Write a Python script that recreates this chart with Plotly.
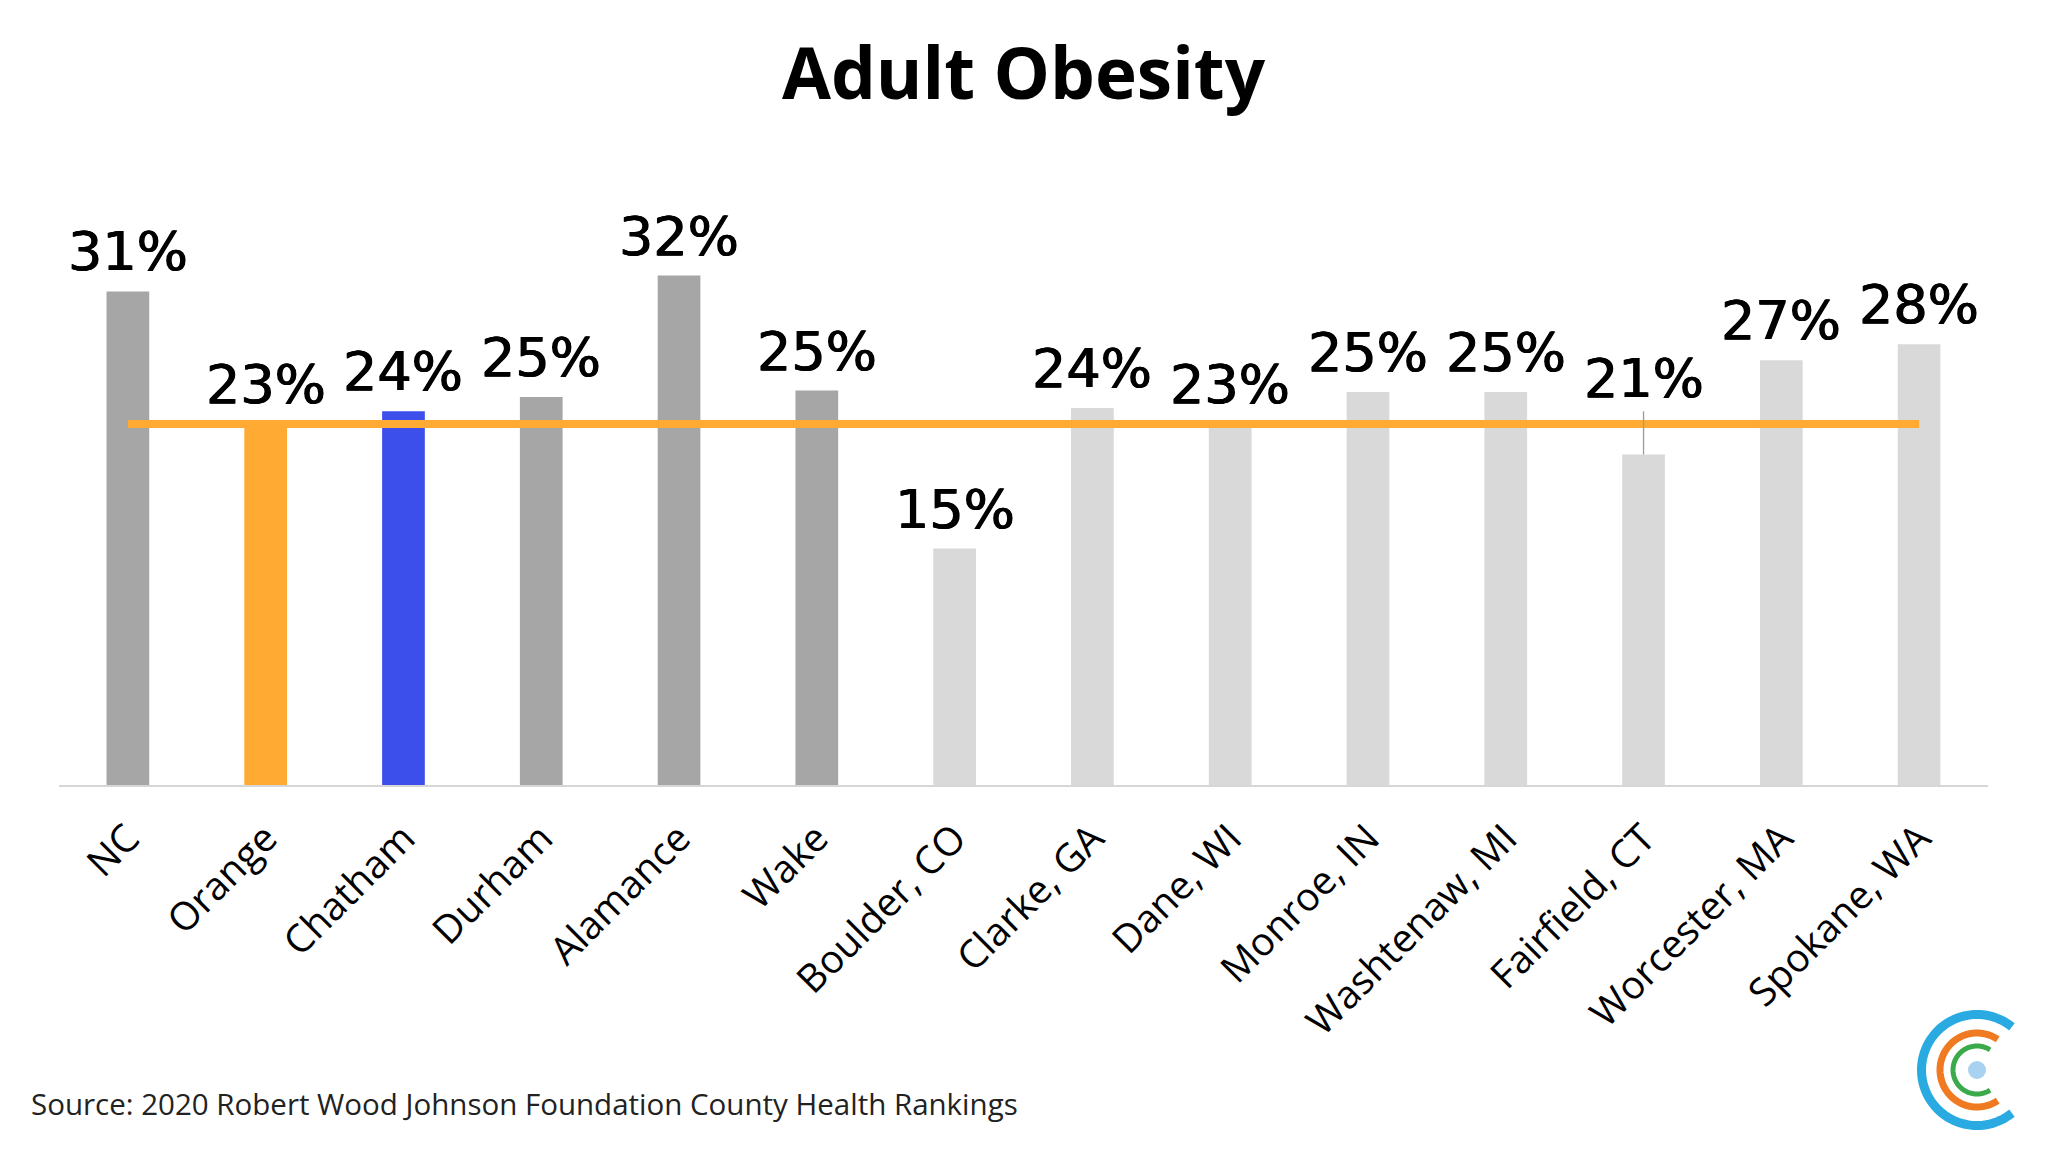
import numpy as np
import plotly.graph_objects as go

# ---- data ----
categories = ["NC", "Orange", "Chatham", "Durham", "Alamance", "Wake",
              "Boulder, CO", "Clarke, GA", "Dane, WI", "Monroe, IN",
              "Washtenaw, MI", "Fairfield, CT", "Worcester, MA", "Spokane, WA"]
values = [30.9, 22.6, 23.4, 24.3, 31.9, 24.7, 14.8, 23.6, 22.6, 24.6, 24.6, 20.7, 26.6, 27.6]
labels = ["31%", "23%", "24%", "25%", "32%", "25%", "15%", "24%", "23%", "25%", "25%", "21%", "27%", "28%"]
groups = ["state", "home", "focus", "nc", "nc", "nc", "peer", "peer", "peer", "peer", "peer", "peer", "peer", "peer"]
benchmark = 22.6          # Orange County reference line
fairfield_leader_top = 23.4

group_colors = {"state": "#A6A6A6", "nc": "#A6A6A6", "home": "#FFAA33",
                "focus": "#3D4FEB", "peer": "#D9D9D9"}
bar_colors = [group_colors[g] for g in groups]

fig = go.Figure()
fig.add_trace(go.Bar(x=categories, y=values, marker=dict(color=bar_colors, line=dict(width=0)),
                     width=0.31, hoverinfo="skip"))
fig.add_trace(go.Scatter(x=categories, y=[benchmark] * len(categories), mode="lines",
                         line=dict(color="#FFAA33", width=8), hoverinfo="skip"))
fi = categories.index("Fairfield, CT")
fig.add_trace(go.Scatter(x=[categories[fi], categories[fi]], y=[values[fi], fairfield_leader_top],
                         mode="lines", line=dict(color="#9A9A9A", width=1.3), hoverinfo="skip"))

annotations = []
for i, (c, v, t) in enumerate(zip(categories, values, labels)):
    if i == fi:
        y, shift = fairfield_leader_top, -1
    else:
        y, shift = v, 6
    annotations.append(dict(x=c, y=y, text=t, showarrow=False, xanchor="center", yanchor="bottom",
                            yshift=shift,
                            font=dict(family="DejaVu Sans", size=54, color="#000000",
                                      shadow="0.6px 0px 0px #000000, -0.6px 0px 0px #000000")))

annotations.append(dict(xref="paper", yref="paper", x=-0.0156, y=-0.569, xanchor="left", yanchor="middle",
                        text="Source: 2020 Robert Wood Johnson Foundation County Health Rankings",
                        showarrow=False, font=dict(family="Open Sans", size=29.5, color="#222222")))

# logo (decorative) as pixel-sized shapes anchored in paper coords
lx = (1977 - 59) / 1929.0
ly = (785 - 1070) / 559.0
shapes = []
def arc_path(r, a0):
    th = np.radians(np.linspace(a0, 360 - a0, 80))
    xs = r * np.cos(th)
    ys = r * np.sin(th)
    return "M " + " L ".join(f"{x:.2f},{y:.2f}" for x, y in zip(xs, ys))
for r, a0, col, w in [(55.5, 51, "#29ABE2", 9), (37, 56, "#F07A22", 7), (24, 57, "#3AAA4A", 5)]:
    shapes.append(dict(type="path", xref="paper", yref="paper", xsizemode="pixel", ysizemode="pixel",
                       xanchor=lx, yanchor=ly, path=arc_path(r, a0), line=dict(color=col, width=w)))
shapes.append(dict(type="circle", xref="paper", yref="paper", xsizemode="pixel", ysizemode="pixel",
                   xanchor=lx, yanchor=ly, x0=-9, x1=9, y0=-9, y1=9,
                   fillcolor="#A9D2F0", line=dict(width=0)))

# page body adds an 8px offset; margins compensate
fig.update_layout(
    width=2048, height=1152,
    paper_bgcolor="white", plot_bgcolor="white",
    margin=dict(l=51, r=68, t=218, b=375),
    showlegend=False,
    title=dict(text="<b>Adult Obesity</b>", x=0.5, xref="paper", y=1 - 66 / 1152, yref="container",
               xanchor="center", yanchor="middle",
               font=dict(family="Open Sans", size=71, color="#000000")),
    annotations=annotations,
    shapes=shapes,
    xaxis=dict(type="category", tickangle=-45, showline=True, linecolor="#D6D6D6", linewidth=1.5,
               ticks="", showgrid=False, zeroline=False, ticklabelstandoff=13,
               tickfont=dict(family="Open Sans", size=39, color="#000000")),
    yaxis=dict(range=[0, 35], visible=False, showgrid=False, zeroline=False),
)

fig.write_html("out.html")
